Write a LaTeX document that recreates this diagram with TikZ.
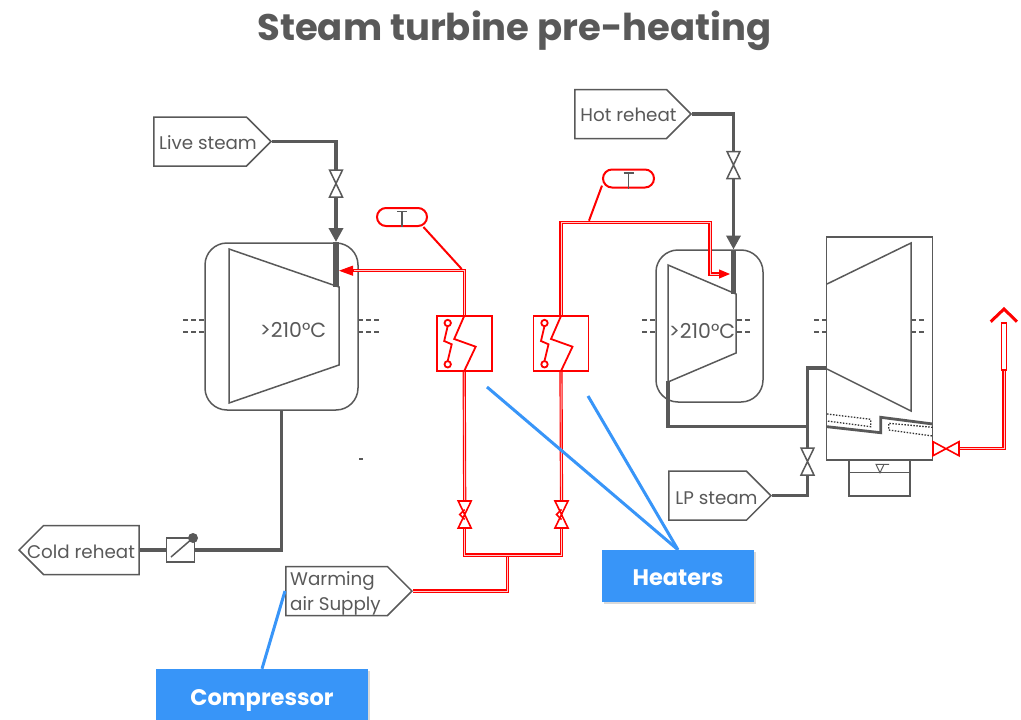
\documentclass[tikz,border=0pt]{standalone}
\usepackage{fontspec}
\setmainfont{Poppins}
\usepackage{tikz}
\usetikzlibrary{arrows.meta,calc,shadows,shapes.symbols}
\definecolor{plantgrey}{HTML}{595959}
\definecolor{tagblue}{HTML}{3895F8}

\begin{document}
\begin{tikzpicture}[
      x=1pt,y=-1pt,
      tag_out/.style={
         signal,
         signal to=east,
         signal pointer angle=90,
         draw=plantgrey,
         line width=1.5pt,
         fill=white,
         inner sep=0pt,
         anchor=east,
         minimum height=49pt},
       tag_text/.style={
         text=plantgrey,
         inner sep=0pt,
         font=\fontsize{18.3}{25}\selectfont},
       casing/.style={
         draw=plantgrey,
         line width=1.5pt,
         rounded corners=22pt,
         inner sep=0pt},
       heater_box/.style={
         draw=red,
         line width=1.8pt,
         minimum width=55pt,
         minimum height=55pt,
         inner sep=0pt},
       temp_tag/.style={
         draw=red,
         line width=2pt,
         rounded corners=9pt,
         minimum width=50pt,
         minimum height=18pt,
         inner sep=0pt},
       valve_box/.style={
         inner sep=0pt,
         minimum width=13pt,
         minimum height=27pt},
       blue_box/.style={
         fill=tagblue,
         text=white,
         inner sep=0pt,
         drop shadow={shadow xshift=1.5pt,shadow yshift=-2pt,opacity=.3},
         font=\fontsize{22.5}{26}\selectfont\bfseries},
       body_line/.style={
         draw=plantgrey,
         line width=1.5pt},
       pipe_steam/.style={
         draw=plantgrey,
         line width=3.5pt},
       pipe_air/.style={
         draw=red,
         line width=3.2pt,
         postaction={draw=red!20,line width=.9pt}},
       arrow_steam/.style={
         -{Triangle[length=14pt,width=14pt]},
         draw=plantgrey,
         fill=plantgrey,
         line width=3.5pt},
       arrow_air/.style={
         -{Triangle[length=14pt,width=10pt]},
         draw=red,
         fill=red,
         line width=1pt},
       blue_line/.style={
         draw=tagblue,
         line width=3pt},
       shaft_dash/.style={
         draw=plantgrey,
         line width=1.2pt,
         dash pattern=on 5pt off 3pt}
]
      \useasboundingbox (0,0) rectangle (1021,720);
      \node[text=plantgrey,font=\fontsize{37}{43}\selectfont\bfseries] (title) at (514.5,31) {Steam turbine pre-heating};

      %turbine casings
      \node[casing,minimum width=153pt,minimum height=167pt] (hp) at (281.5,326.5) {};
      \node[casing,minimum width=107pt,minimum height=152pt] (ip) at (709.5,326) {};
      \node[body_line,minimum width=106pt,minimum height=223pt,inner sep=0pt] (lp) at (879.5,348.5) {};

      \draw[body_line] (229,249) -- (339,287) -- (339,365) -- (229,403) -- cycle;
      \draw[body_line] (668,265) -- (736,294) -- (736,353) -- (668,382) -- cycle;
      \draw[body_line] (827,284) -- (911,243) -- (911,411) -- (827,369);

      \node[text=plantgrey,font=\fontsize{20.5}{24}\selectfont] (temp_hp) at (293,330) {>210°C};
      \node[text=plantgrey,font=\fontsize{20.5}{24}\selectfont] (temp_ip) at (702,331) {>210°C};

      %shaft ends
      \foreach \xa/\xb in {183/205,358/381,642/656,737/751,814/827,911/924}
        \foreach \y in {320,332}
          \draw[shaft_dash] (\xa,\y) -- (\xb,\y);

      %condenser
      \node[body_line,minimum width=61pt,minimum height=36pt,inner sep=0pt] (cond) at (879.5,478) {};
      \draw[body_line] (cond.west |- 0,472.7) -- (cond.east |- 0,472.7);
      \draw[body_line,line width=1pt] (889,464.3) -- (876,464.3) -- (880,472.7) -- (884,464.3);

      %exhaust hood
      \draw[pipe_steam,line width=2.8pt] (827,426.7) -- (880.7,432.7) -- (880.7,417.3) -- (932.7,424);
      \draw[draw=black!80,line width=1.3pt,dash pattern=on 1.5pt off 1.5pt] (827,414) -- (870.7,419.3) -- (870.7,426.7) -- (827,421);
      \draw[draw=black!80,line width=1.3pt,dash pattern=on 1.5pt off 1.5pt] (932.7,427.3) -- (888.7,423.3) -- (888.7,430) -- (932.7,436);

      %tags
      \node[tag_out,minimum width=117pt] (live) at (272,141.5) {};
      \node[tag_out,minimum width=116pt] (hot) at (692,114) {};
      \node[tag_out,minimum width=102pt] (lpsteam) at (772,495.7) {};
      \node[tag_out,signal to=west,anchor=west,minimum width=120pt] (cold) at (18,550) {};
      \node[tag_out,minimum width=126pt] (warm) at (413,591) {};

      \node[tag_text] (live_txt) at (208,143) {Live steam};
      \node[tag_text] (hot_txt) at (628.5,115) {Hot reheat};
      \node[tag_text] (lp_txt) at (716.5,498) {LP steam};
      \node[tag_text] (cold_txt) at (81,551.5) {Cold reheat};
      \node[tag_text,anchor=west,align=left] (warm_txt) at (290,593) {Warming\\air Supply};

      %valves
      \node[valve_box] (v_live) at (336,183.5) {};
      \node[valve_box] (v_hot) at (733.5,165) {};
      \node[valve_box] (v_lp) at (807.5,461.5) {};
      \node[valve_box] (v_a) at (464.7,514.5) {};
      \node[valve_box] (v_b) at (561.5,514.5) {};
      \node[minimum width=26pt,minimum height=14pt,inner sep=0pt] (v_drain) at (946,448.7) {};

      %damper
      \node[body_line,fill=white,minimum width=28pt,minimum height=24pt,inner sep=0pt] (damper) at (180.5,550) {};

      %steam lines
      \coordinate (in_hp) at (336,242);
      \coordinate (in_ip) at (733.5,249.5);
      \draw[pipe_steam] (live.east) -| (v_live.north);
      \draw[arrow_steam] (v_live.south) -- (in_hp);
      \draw[pipe_steam,line width=5.5pt] (in_hp) -- (336,287);
      \draw[pipe_steam] (hot.east) -| (v_hot.north);
      \draw[arrow_steam] (v_hot.south) -- (in_ip);
      \draw[pipe_steam,line width=5.5pt] (in_ip) -- (733.5,294);
      \draw[pipe_steam] (hp.south) |- (damper.east);
      \draw[pipe_steam] (damper.west) -- (cold.east);
      \draw[pipe_steam,line width=4pt] (668,381) -- (668,402);
      \draw[pipe_steam] (668,402) |- (807.5,426.7);
      \draw[pipe_steam] (v_lp.north) |- (lp.west |- 0,368);
      \draw[pipe_steam] (lpsteam.east) -| (v_lp.south);

      \foreach \v in {v_live,v_hot,v_lp}
        \draw[body_line,fill=white] ($(\v)+(-6.5,-13.5)$) -- ($(\v)+(6.5,-13.5)$) -- ($(\v)+(-6.5,13.5)$) -- ($(\v)+(6.5,13.5)$) -- cycle;

      \fill[plantgrey] (193,538) circle (5);
      \draw[body_line] (171,557) -- (193,538);

      %heaters
      \node[heater_box] (h1) at (464.2,343.5) {};
      \node[heater_box] (h2) at (561,343.5) {};

      %warming air lines
      \coordinate (split) at (507.8,555);
      \coordinate (corner_a) at (464.2,270.7);
      \coordinate (base_hp) at (353,270.7);
      \coordinate (tip_hp) at (339,270.7);
      \coordinate (base_ip) at (719,274);
      \coordinate (tip_ip) at (730,274);
      \coordinate (vent) at (1004,370);

      \draw[pipe_air] (warm.east) -| (split);
      \draw[pipe_air] (v_a.south) |- (split);
      \draw[pipe_air] (v_b.south) |- (split);
      \draw[pipe_air] (h1.south) -- (v_a.north);
      \draw[pipe_air] (h2.south) -- (v_b.north);
      \draw[pipe_air] (h1.north) -- (corner_a) -- (base_hp);
      \draw[arrow_air] (base_hp) -- (tip_hp);
      \draw[pipe_air] (h2.north) |- (710,222.7) |- (base_ip);
      \draw[arrow_air,-{Triangle[length=11pt,width=9pt]}] (base_ip) -- (tip_ip);
      \draw[pipe_air] (v_drain.east) -| (vent);

      %heater insides
      \foreach \h in {h1,h2} {
        \begin{scope}[shift={(\h)}]
          \draw[red,line width=1.8pt] (0,-27.5) -- (-10,-4.5) -- (11.5,3.2) -- (0,27.5);
          \draw[red,line width=1.8pt] (-16.5,-17.5) -- (-20,-2.5) -- (-12.5,0.8) -- (-16.5,17.5);
          \draw[red,line width=1.8pt,fill=white] (-16.5,-20.5) circle (3.2);
          \draw[red,line width=1.8pt,fill=white] (-16.5,20.8) circle (3.2);
        \end{scope}
      }

      %air valves
      \foreach \v in {v_a,v_b} {
        \draw[red,line width=1.6pt,fill=white] ($(\v)+(-6.5,-13.5)$) -- ($(\v)+(6.5,-13.5)$) -- ($(\v)+(-6.5,13.5)$) -- ($(\v)+(6.5,13.5)$) -- cycle;
        \draw[red,line width=1.6pt] ($(\v)+(0,-5)$) -- ($(\v)+(-5,0)$) -- ($(\v)+(0,5)$);
      }
      \draw[red,line width=1.6pt,fill=white] ($(v_drain)+(-13,-7)$) -- ($(v_drain)+(-13,7)$) -- ($(v_drain)+(13,-7)$) -- ($(v_drain)+(13,7)$) -- cycle;

      %vent
      \node[draw=red,line width=1.4pt,fill=white,minimum width=5pt,minimum height=47pt,inner sep=0pt] (stack) at (1004,346.5) {};
      \draw[red,line width=3pt] (990.7,321.7) -- (1004,309) -- (1017,321.7);

      %temperature tags
      \node[temp_tag] (t1) at (402,217) {};
      \node[temp_tag,minimum width=51pt] (t2) at (628.5,178.5) {};
      \draw[red,line width=2pt] (t1.-25) -- (461.7,269);
      \draw[red,line width=2pt] (t2.195) -- (589,220.7);
      \foreach \t in {t1,t2} {
        \draw[plantgrey,line width=1.2pt] ($(\t)+(-5,-5.5)$) -- ($(\t)+(5,-5.5)$);
        \draw[plantgrey,line width=1.2pt] ($(\t)+(0,-5.5)$) -- (\t.south);
      }

      %callouts
      \node[blue_box,minimum width=152pt,minimum height=52pt] (heaters) at (678,576) {\raisebox{-2pt}[\height][\depth]{Heaters}};
      \node[blue_box,minimum width=212pt,minimum height=56pt] (compressor) at (262,697) {\raisebox{-3pt}[\height][\depth]{Compressor}};
      \coordinate (to_h1) at (487,387);
      \coordinate (to_h2) at (588,396);
      \coordinate (to_warm) at (285,591);
      \draw[blue_line] (heaters.north) -- (to_h1);
      \draw[blue_line] (heaters.north) -- (to_h2);
      \draw[blue_line] (compressor.north) -- (to_warm);

      \fill[plantgrey] (358.5,458.3) rectangle (362.5,460);
\end{tikzpicture}
\end{document}
